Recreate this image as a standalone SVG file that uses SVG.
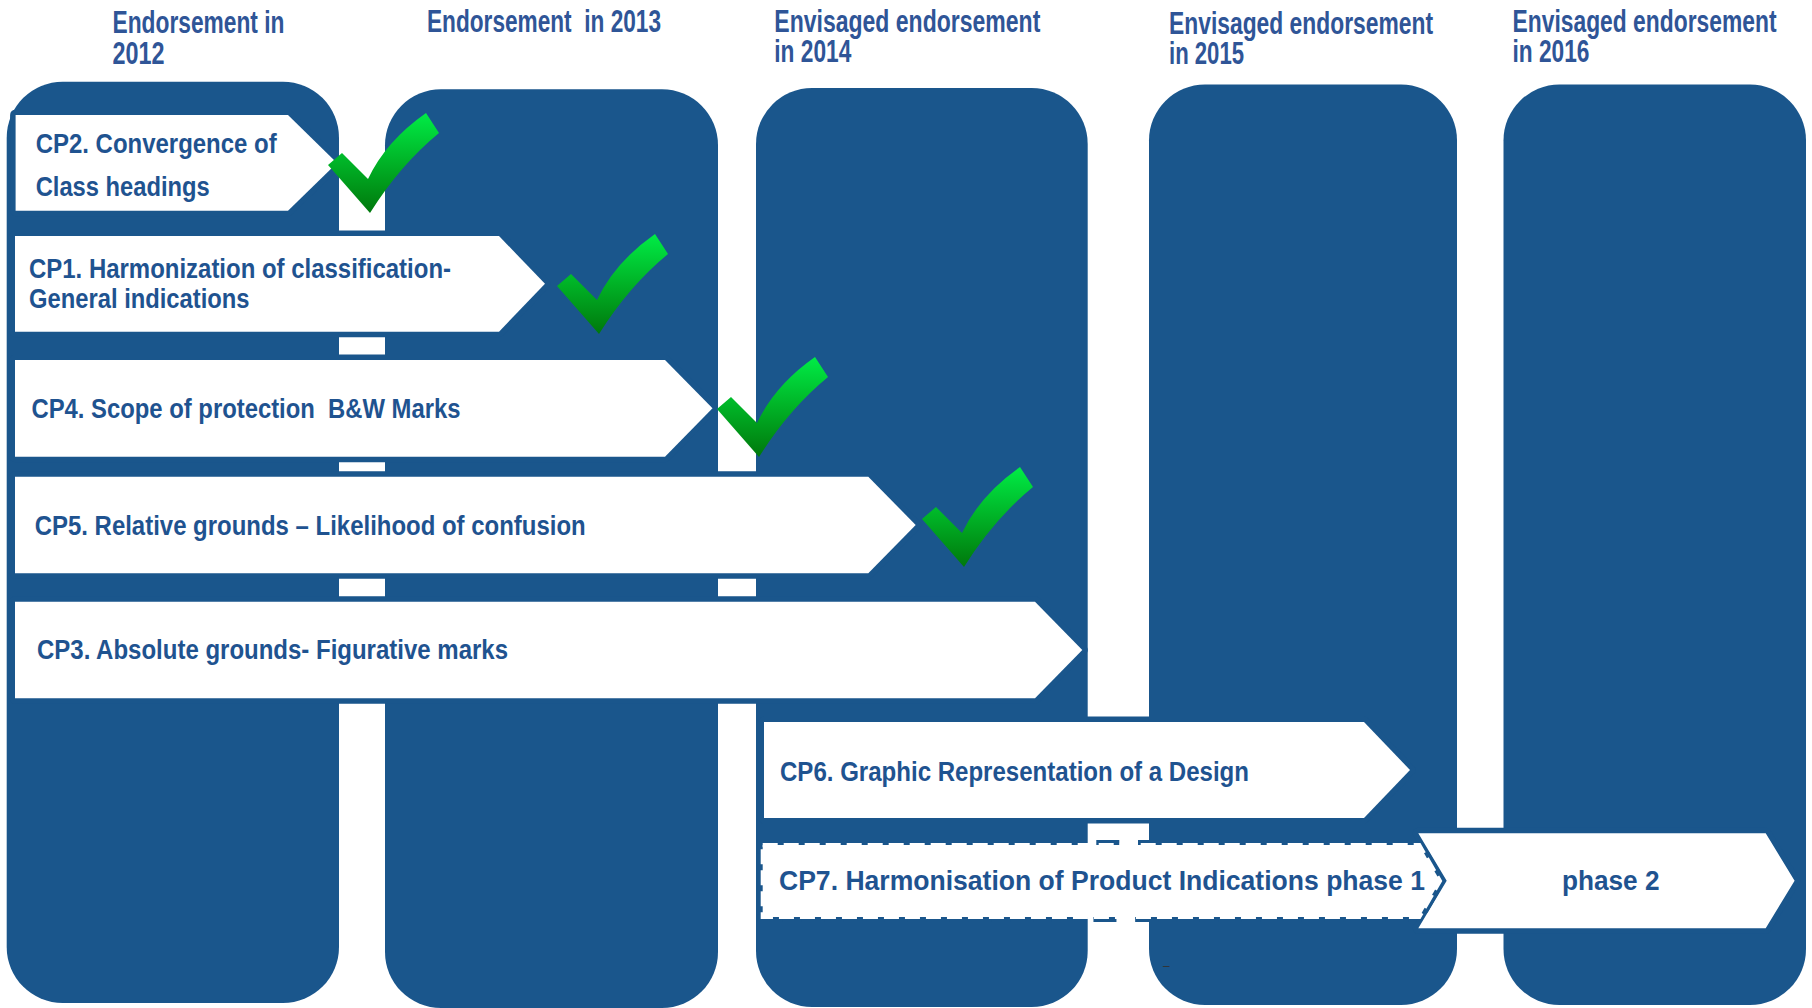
<svg xmlns="http://www.w3.org/2000/svg" width="1812" height="1008" viewBox="0 0 1812 1008">
  <defs>
    <linearGradient id="tickGrad" x1="0" y1="0" x2="0" y2="1">
      <stop offset="0" stop-color="#00ec46"/>
      <stop offset="0.5" stop-color="#00b226"/>
      <stop offset="1" stop-color="#00780c"/>
    </linearGradient>
    <!-- green check mark, 111 x 100 -->
    <path id="tick" d="M0,52 L14,40 L40,66 Q58,28 98,0 L111,20 Q72,52 42,100 Z" fill="url(#tickGrad)"/>
  </defs>
  <style>
    .lane{fill:#1a568c}
    .head{font-family:"Liberation Sans",Arial,sans-serif;font-weight:bold;font-size:31px;fill:#2f5597}
    .step{fill:#fff;stroke:#1a568c;stroke-width:11;stroke-linejoin:round;paint-order:stroke}
    .lbl{font-family:"Liberation Sans",Arial,sans-serif;font-weight:bold;font-size:27px;fill:#1f5390}
    .pre{white-space:pre}
  </style>

  <rect x="0" y="0" width="1812" height="1008" fill="#fff"/>

  <!-- year lanes -->
  <g id="lanes">
    <rect id="lane-2012" class="lane" x="6.7" y="81.7" width="332.3" height="921.3" rx="56"/>
    <rect id="lane-2013" class="lane" x="385" y="89.3" width="333" height="918.7" rx="56"/>
    <rect id="lane-2014" class="lane" x="756" y="88" width="331.7" height="919" rx="56"/>
    <rect id="lane-2015" class="lane" x="1149" y="84.5" width="308" height="920.5" rx="56"/>
    <rect id="lane-2016" class="lane" x="1503.5" y="84.5" width="302.5" height="920.5" rx="56"/>
  </g>

  <!-- column headings -->
  <g id="headings">
    <g id="head-2012">
      <text class="head" x="112.5" y="33" textLength="172" lengthAdjust="spacingAndGlyphs">Endorsement in</text>
      <text class="head" x="112.5" y="63.5" textLength="52" lengthAdjust="spacingAndGlyphs">2012</text>
    </g>
    <g id="head-2013">
      <text class="head pre" x="427" y="32" textLength="234" lengthAdjust="spacingAndGlyphs">Endorsement  in 2013</text>
    </g>
    <g id="head-2014">
      <text class="head" x="774.3" y="31.5" textLength="266" lengthAdjust="spacingAndGlyphs">Envisaged endorsement</text>
      <text class="head" x="774.3" y="61.5" textLength="77" lengthAdjust="spacingAndGlyphs">in 2014</text>
    </g>
    <g id="head-2015">
      <text class="head" x="1169" y="33.5" textLength="264" lengthAdjust="spacingAndGlyphs">Envisaged endorsement</text>
      <text class="head" x="1169" y="63.5" textLength="75" lengthAdjust="spacingAndGlyphs">in 2015</text>
    </g>
    <g id="head-2016">
      <text class="head" x="1512.5" y="31.5" textLength="264" lengthAdjust="spacingAndGlyphs">Envisaged endorsement</text>
      <text class="head" x="1512.5" y="61.5" textLength="77" lengthAdjust="spacingAndGlyphs">in 2016</text>
    </g>
  </g>

  <!-- project arrows -->
  <g id="cp2">
    <polygon class="step" points="15.6,115 288,115 337,163 288,210.7 15.6,210.7"/>
    <text class="lbl" x="35.7" y="153" textLength="241" lengthAdjust="spacingAndGlyphs">CP2. Convergence of</text>
    <text class="lbl" x="35.7" y="195.5" textLength="174" lengthAdjust="spacingAndGlyphs">Class headings</text>
  </g>
  <g id="cp1">
    <polygon class="step" points="15,236 499,236 545,283.8 499,331.7 15,331.7"/>
    <text class="lbl" x="29" y="278.3" textLength="422" lengthAdjust="spacingAndGlyphs">CP1. Harmonization of classification-</text>
    <text class="lbl" x="29" y="308.3" textLength="220.6" lengthAdjust="spacingAndGlyphs">General indications</text>
  </g>
  <g id="cp4">
    <polygon class="step" points="15,360 665,360 712.5,408.3 665,456.7 15,456.7"/>
    <text class="lbl pre" x="31.5" y="418" textLength="429" lengthAdjust="spacingAndGlyphs">CP4. Scope of protection  B&amp;W Marks</text>
  </g>
  <g id="cp5">
    <polygon class="step" points="15,476.7 868.3,476.7 915.7,525 868.3,573.3 15,573.3"/>
    <text class="lbl" x="34.7" y="535" textLength="551" lengthAdjust="spacingAndGlyphs">CP5. Relative grounds – Likelihood of confusion</text>
  </g>
  <g id="cp3">
    <polygon class="step" points="15,601.7 1035,601.7 1082.3,650 1035,698.3 15,698.3"/>
    <text class="lbl" x="37" y="659.3" textLength="471" lengthAdjust="spacingAndGlyphs">CP3. Absolute grounds- Figurative marks</text>
  </g>
  <g id="cp6">
    <polygon class="step" points="764,722 1364,722 1410,770 1364,818 764,818"/>
    <text class="lbl" x="780" y="781" textLength="469" lengthAdjust="spacingAndGlyphs">CP6. Graphic Representation of a Design</text>
  </g>
  <g id="phase2">
    <polygon class="step" points="1418.3,833.3 1765.7,833.3 1794.6,880.8 1765.7,928.3 1418.3,928.3 1446.7,880.8"/>
    <text class="lbl" x="1562" y="890" textLength="97.5" lengthAdjust="spacingAndGlyphs">phase 2</text>
  </g>
  <g id="cp7">
    <polygon points="762.7,845 1419.3,845 1440,881 1419.3,917 762.7,917" fill="#fff" stroke="#1a568c" stroke-width="10" stroke-dasharray="23 18.7" paint-order="stroke"/>
    <polygon points="762.7,845 1419.3,845 1440,881 1419.3,917 762.7,917" fill="none" stroke="#fff" stroke-width="4" stroke-dasharray="15 6"/>
    <text class="lbl" x="779" y="890" textLength="646" lengthAdjust="spacingAndGlyphs">CP7. Harmonisation of Product Indications phase 1</text>
  </g>

  <!-- completion ticks -->
  <g id="ticks">
    <use href="#tick" x="328" y="113"/>
    <use href="#tick" x="557" y="234"/>
    <use href="#tick" x="717" y="357"/>
    <use href="#tick" x="922" y="467"/>
  </g>

  <text x="1163" y="970" font-family="Liberation Sans, Arial, sans-serif" font-size="12" fill="#333">–</text>
</svg>
